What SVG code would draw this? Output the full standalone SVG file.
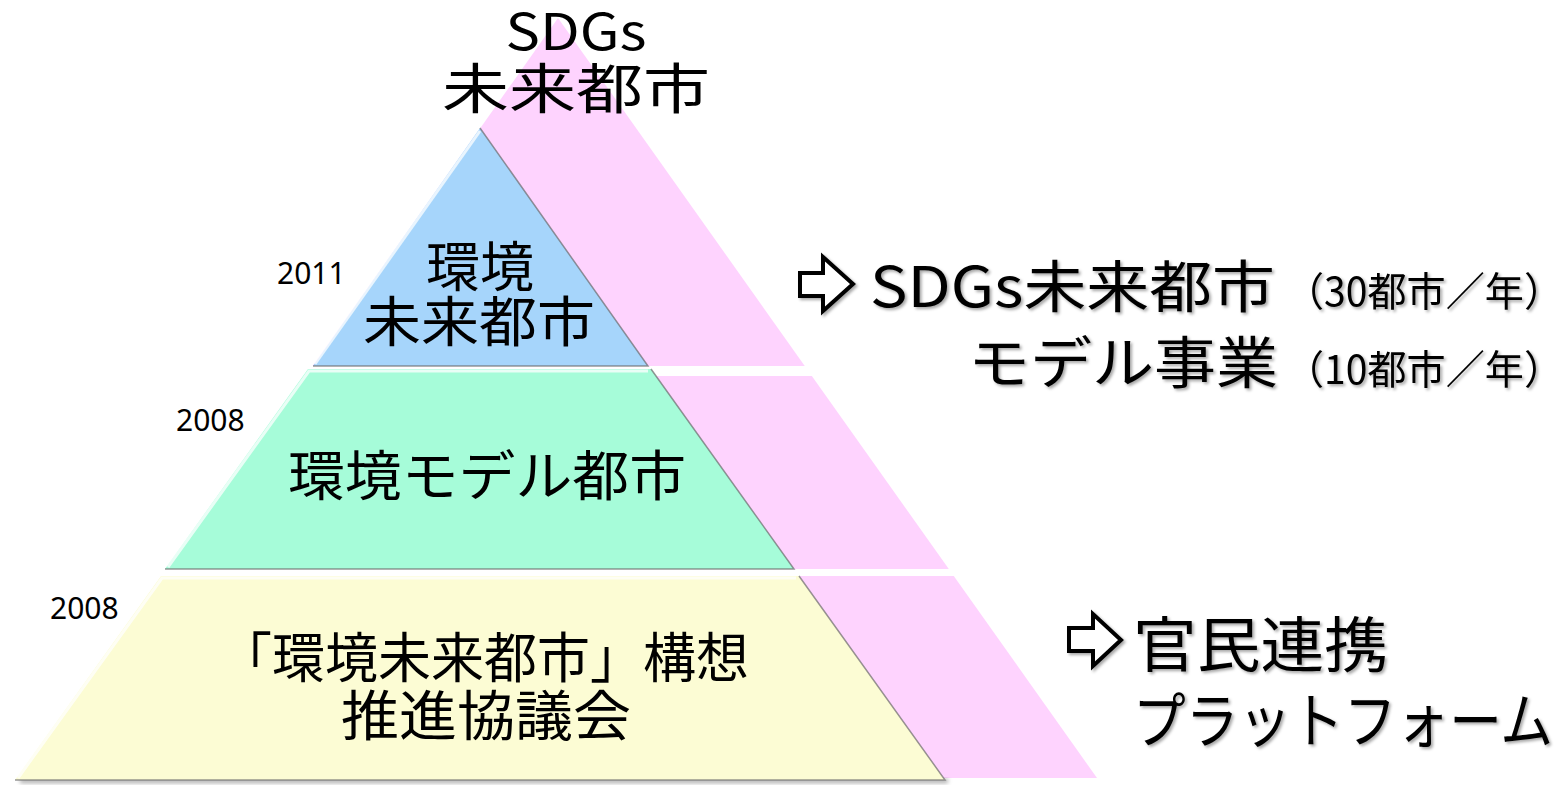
<svg xmlns="http://www.w3.org/2000/svg" width="1554" height="786" viewBox="0 0 1554 786">
  <defs>
    <style>
      .t { font-family: "Noto Sans CJK JP", "Noto Sans", sans-serif; fill: #000; }
      .yr { font-family: "Noto Sans", "Liberation Sans", sans-serif; font-size: 30px; fill: #000; }
      .arr { fill: #ffffff; stroke: #000; stroke-width: 4; stroke-linejoin: miter; }
      .hi { fill: none; stroke: #ffffff; stroke-opacity: 0.75; stroke-width: 3; }
      .sh { fill: none; stroke: #6b6b6b; stroke-opacity: 0.7; stroke-width: 1.5; }
    </style>
    <filter id="ds" x="-10%" y="-10%" width="120%" height="130%">
      <feDropShadow dx="2" dy="2" stdDeviation="1.5" flood-color="#000" flood-opacity="0.35"/>
    </filter>
    <filter id="blur" x="-5%" y="-50%" width="110%" height="200%">
      <feGaussianBlur stdDeviation="2"/>
    </filter>
  </defs>

  <rect width="1554" height="786" fill="#ffffff"/>

  <!-- pink back face -->
  <g id="back-face">
    <polygon points="558,18 22,778 1097,778" fill="#fed3fe"/>
    <rect x="300" y="366" width="860" height="10" fill="#ffffff"/>
    <rect x="150" y="569" width="1010" height="7" fill="#ffffff"/>
  </g>

  <!-- bottom shadow -->
  <rect x="20" y="779" width="928" height="4" fill="#000" fill-opacity="0.35" filter="url(#blur)"/>

  <g id="tier-top">
    <polygon points="480,128 313,366 648,366" fill="#a6d5fb"/>
    <polyline class="hi" points="315,364 480,131"/>
    <polyline class="sh" points="480,128 648,366 313,366"/>
    <text class="t" x="480" y="287" font-size="54" text-anchor="middle">環境</text>
    <text class="t" x="479" y="342" font-size="54" text-anchor="middle" textLength="232" lengthAdjust="spacingAndGlyphs">未来都市</text>
  </g>

  <g id="tier-middle">
    <polygon points="308,369 651,369 794,569 165,569" fill="#a6fcd9"/>
    <polyline class="hi" points="168,567 309,371 648,371"/>
    <polyline class="sh" points="651,369 794,569 165,569"/>
    <text class="t" x="487" y="496" font-size="54" text-anchor="middle" textLength="398" lengthAdjust="spacingAndGlyphs">環境モデル都市</text>
  </g>

  <g id="tier-bottom">
    <polygon points="161,576 799,576 945,780 15,780" fill="#fcfcd4"/>
    <polyline class="hi" points="18,778 162,578 796,578"/>
    <polyline class="sh" points="799,576 945,780 15,780"/>
    <text class="t" x="484" y="678" font-size="54" text-anchor="middle" textLength="530" lengthAdjust="spacingAndGlyphs">「環境未来都市」構想</text>
    <text class="t" x="486" y="736" font-size="54" text-anchor="middle" textLength="290" lengthAdjust="spacingAndGlyphs">推進協議会</text>
  </g>

  <g id="title">
    <text class="t" x="576" y="50" font-size="50" text-anchor="middle" textLength="141" lengthAdjust="spacingAndGlyphs">SDGs</text>
    <text class="t" x="576" y="109" font-size="54" text-anchor="middle" textLength="268" lengthAdjust="spacingAndGlyphs">未来都市</text>
  </g>

  <g id="years">
    <text class="yr" x="277" y="284">2011</text>
    <text class="yr" x="176" y="431">2008</text>
    <text class="yr" x="50" y="619">2008</text>
  </g>

  <g id="label-sdgs" filter="url(#ds)">
    <polygon class="arr" points="800,273 823,273 823,257 853,284 823,311 823,296 800,296"/>
    <text class="t" x="870" y="307" font-size="56" textLength="405" lengthAdjust="spacingAndGlyphs">SDGs未来都市</text>
    <text class="t" x="1285" y="306" font-size="40" textLength="278" lengthAdjust="spacingAndGlyphs">（30都市／年）</text>
    <text class="t" x="968" y="383" font-size="56" textLength="310" lengthAdjust="spacingAndGlyphs">モデル事業</text>
    <text class="t" x="1285" y="384" font-size="40" textLength="278" lengthAdjust="spacingAndGlyphs">（10都市／年）</text>
  </g>

  <g id="label-platform" filter="url(#ds)">
    <polygon class="arr" points="1069,628 1093,628 1093,614 1121,640 1093,666 1093,651 1069,651"/>
    <text class="t" x="1133" y="667" font-size="60" textLength="255" lengthAdjust="spacingAndGlyphs">官民連携</text>
    <text class="t" x="1133" y="743" font-size="60" textLength="420" lengthAdjust="spacingAndGlyphs">プラットフォーム</text>
  </g>
</svg>
